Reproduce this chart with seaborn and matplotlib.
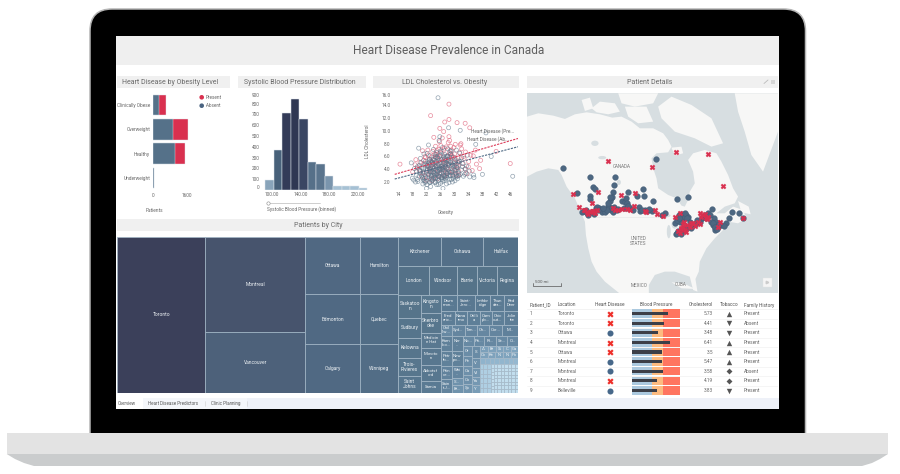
import numpy as np
import pandas as pd
import matplotlib
matplotlib.use("Agg")
import matplotlib.pyplot as plt
from matplotlib.patches import Rectangle, FancyBboxPatch, Polygon, Ellipse
from matplotlib.colors import LinearSegmentedColormap
import seaborn as sns

# ---------- data ----------
title = "Heart Disease Prevalence in Canada"
obesity_levels = ["Clinically Obese", "Overweight", "Healthy", "Underweight"]
obesity_absent = [296, 955, 1035, 25]
obesity_total = [595, 1633, 1520, 60]

bp_edges = [91.8, 103.5, 115.2, 126.9, 138.6, 150.3, 162.0, 173.7, 185.4, 197.1, 208.8, 220.5, 232.2]
bp_counts = [95, 367, 710, 845, 657, 256, 240, 127, 34, 34, 40, 18]

present_x = [14.5, 23.2, 28.4, 28.4, 30.7, 33.0, 34.3, 24.1, 25.8, 27.2, 26.9, 28.4, 28.6, 45.8, 41.8, 37.1, 36.2, 37.4, 35.9,
             19.5, 20.2, 21.0, 21.6, 22.1, 22.4, 22.9, 23.3, 23.8, 24.2, 24.6, 24.9, 25.3, 25.7, 26.0, 26.4, 26.8, 27.1, 27.5, 27.9,
             28.2, 28.7, 29.1, 29.6, 30.0, 30.5, 31.0, 31.6, 32.2, 33.1, 34.0, 35.0, 18.1, 18.8, 20.6, 21.9, 23.0, 24.0, 25.1, 26.2,
             27.3, 28.5, 29.4, 30.2, 31.2, 32.5, 22.6, 23.6, 24.4, 25.5, 26.6, 27.7, 28.9, 29.9, 30.8, 32.0, 33.5, 20.9, 21.4, 22.8,
             24.8, 26.1, 27.0, 28.1, 29.3, 30.4, 31.8, 23.9, 25.0, 25.9, 19.0, 26.5, 28.8,
             22.3, 22.7, 23.4, 24.5, 25.2, 26.3, 27.4, 28.3, 29.0, 29.8, 30.7, 31.4, 33.0, 34.6, 21.2, 23.1, 24.3, 25.4, 26.7, 27.6,
             20.0, 21.7, 24.7, 25.6, 27.8, 29.5, 30.9, 32.7, 33.9, 35.3, 28.0, 25.8, 26.9, 27.2, 24.0, 23.5, 22.0, 30.1, 31.1, 29.2]
present_y = [4.8, 12.4, 14.2, 11.8, 11.3, 11.2, 10.5, 9.0, 10.4, 11.4, 9.9, 9.1, 8.5, 4.9, 6.8, 4.1, 4.8, 5.4, 7.0,
             4.2, 5.1, 3.4, 6.0, 4.6, 7.0, 5.5, 3.1, 6.8, 4.3, 7.6, 5.9, 3.6, 8.3, 5.0, 6.5, 3.9, 7.3, 4.7, 6.1,
             8.2, 5.3, 7.0, 4.4, 6.4, 3.0, 5.7, 7.8, 4.9, 6.7, 5.2, 3.8, 3.6, 4.7, 2.9, 3.5, 4.0, 5.6, 2.5, 4.5,
             3.0, 6.6, 5.9, 7.9, 3.7, 6.0, 6.2, 2.2, 5.0, 7.1, 5.6, 3.4, 7.6, 5.1, 4.2, 7.2, 3.3, 6.9, 4.9, 3.7,
             6.3, 7.7, 5.4, 4.0, 3.2, 5.5, 8.0, 4.8, 6.9, 3.2, 5.5, 8.9, 6.4,
             2.7, 4.4, 5.9, 3.5, 6.1, 4.2, 5.0, 3.6, 6.0, 7.4, 4.6, 6.6, 4.0, 6.2, 5.4, 4.7, 6.4, 5.3, 4.0, 7.5,
             3.9, 5.8, 4.5, 2.9, 5.2, 3.6, 5.0, 5.7, 4.4, 6.1, 4.3, 6.0, 7.0, 2.9, 2.6, 5.2, 2.3, 4.0, 3.1, 6.2]
absent_x = [25.3, 28.3, 31.6, 38.9, 46.5, 37.9, 40.4, 19.8, 17.7, 18.0, 18.4, 26.7, 22.0, 34.3, 35.5, 35.4, 36.0, 25.8,
            19.2, 19.6, 20.0, 20.3, 20.7, 21.0, 21.2, 21.5, 21.7, 22.0, 22.2, 22.4, 22.6, 22.8, 23.0, 23.2, 23.4, 23.6, 23.8, 24.0,
            24.2, 24.4, 24.6, 24.8, 25.0, 25.2, 25.4, 25.6, 25.8, 26.0, 26.2, 26.4, 26.6, 26.8, 27.0, 27.2, 27.4, 27.6, 27.8, 28.0,
            28.2, 28.4, 28.6, 28.8, 29.0, 29.3, 29.6, 29.9, 30.2, 30.5, 30.8, 31.2, 31.6, 32.0, 32.5, 33.0, 33.6, 34.2,
            19.9, 20.5, 21.1, 21.6, 22.1, 22.5, 22.9, 23.3, 23.7, 24.1, 24.5, 24.9, 25.3, 25.7, 26.1, 26.5, 26.9, 27.3, 27.7, 28.1,
            28.5, 28.9, 29.4, 29.8, 30.3, 30.9, 31.5, 32.2, 33.2, 21.3, 21.9, 22.3, 22.7, 23.1, 23.5, 23.9, 24.3, 24.7, 25.1, 25.5,
            25.9, 26.3, 26.7, 27.1, 27.5, 27.9, 28.3, 28.7, 29.2, 29.7, 30.1, 30.6, 31.3, 20.2, 20.8, 21.4, 22.2, 22.8, 23.4, 24.0,
            24.6, 25.2, 25.8, 26.4, 27.0, 27.6, 28.2, 28.8, 29.5, 30.4, 19.4, 18.9, 23.2, 24.4, 25.6, 26.8, 28.0, 29.1, 30.0, 31.0,
            22.4, 23.6, 24.8, 26.0, 27.2, 28.4, 24.2, 25.4, 26.6, 27.8,
            18.6, 19.1, 19.5, 20.1, 20.6, 21.0, 21.4, 21.8, 22.3, 22.6, 22.9, 23.3, 23.5, 23.9, 24.2, 24.5, 24.7, 25.0, 25.3, 25.5,
            25.7, 26.0, 26.3, 26.5, 26.8, 27.1, 27.3, 27.6, 27.9, 28.1, 28.5, 28.8, 29.1, 29.4, 29.7, 30.0, 30.4, 30.7, 31.1, 31.4,
            31.9, 32.4, 32.9, 33.4, 21.2, 21.7, 22.2, 22.7, 23.0, 23.4, 23.8, 24.1, 24.6, 24.9, 25.1, 25.6, 25.9, 26.2, 26.6, 26.9,
            27.2, 27.5, 27.8, 28.2, 28.6, 29.0, 29.5, 30.0, 30.6, 31.2, 20.4, 20.9, 23.1, 23.7, 24.3, 24.8, 25.2, 25.8, 26.4, 27.0]
absent_y = [15.2, 10.5, 10.1, 9.7, 2.9, 3.2, 6.0, 7.3, 5.0, 2.6, 2.3, 1.0, 1.0, 2.8, 2.7, 3.1, 7.9, 9.1,
            3.7, 2.1, 4.6, 5.7, 3.0, 1.7, 4.1, 2.6, 5.2, 3.5, 1.6, 4.4, 7.8, 2.8, 6.1, 1.3, 3.9, 5.1, 2.3, 7.1,
            4.2, 1.9, 5.8, 3.2, 6.6, 2.5, 4.7, 8.5, 3.5, 1.8, 5.5, 2.9, 7.4, 4.3, 2.2, 6.3, 3.6, 5.0, 2.7, 7.2,
            4.0, 1.9, 5.9, 3.0, 6.8, 4.4, 2.6, 5.3, 3.4, 7.0, 2.5, 4.6, 3.2, 5.8, 2.9, 4.1, 6.2, 3.7,
            2.9, 5.0, 3.4, 1.9, 4.9, 3.1, 5.6, 2.4, 4.4, 3.0, 6.0, 1.6, 4.8, 3.3, 6.9, 2.4, 5.2, 3.9, 1.7, 4.7,
            3.1, 6.4, 2.0, 4.9, 3.8, 2.9, 6.5, 4.4, 3.4, 6.4, 2.7, 4.1, 5.3, 3.6, 2.1, 5.5, 3.1, 4.5, 5.9, 2.3,
            4.2, 3.4, 6.1, 2.8, 5.4, 3.3, 4.8, 6.9, 3.7, 5.9, 2.2, 3.9, 5.3, 3.6, 4.2, 2.2, 6.5, 4.0, 2.9, 4.9,
            6.3, 3.7, 5.4, 4.1, 3.0, 6.0, 5.2, 3.5, 4.6, 3.1, 4.4, 2.0, 3.7, 2.7, 4.0, 4.9, 6.0, 2.4, 4.5, 5.1,
            4.6, 3.6, 5.0, 3.9, 4.4, 5.3, 4.1, 2.9, 4.0, 3.0,
            4.1, 3.1, 2.4, 3.8, 4.3, 2.7, 3.6, 2.1, 4.6, 3.2, 1.9, 5.3, 2.6, 3.5, 5.4, 2.0, 4.0, 3.3, 5.7, 1.6,
            3.9, 6.7, 2.7, 4.4, 3.1, 5.6, 2.5, 4.2, 3.3, 6.1, 2.4, 5.1, 3.5, 4.7, 2.9, 5.6, 2.8, 4.3, 3.4, 5.2,
            3.9, 4.9, 3.2, 4.5, 2.3, 4.8, 3.8, 5.0, 2.0, 3.0, 4.7, 3.4, 2.5, 5.2, 3.7, 2.8, 6.2, 4.5, 2.1, 3.7,
            5.0, 2.9, 4.1, 5.5, 3.6, 4.6, 3.0, 3.8, 4.3, 3.0, 3.3, 2.6, 4.1, 5.0, 3.3, 2.7, 4.3, 5.0, 2.6, 5.9]
trend_x = [13.0, 48.0]
trend_present = [3.2, 8.82]
trend_absent = [2.47, 7.52]
obesity_ticks = [14, 18, 22, 26, 30, 34, 38, 42, 46]
ldl_ticks = [2, 4, 6, 8, 10, 12, 14, 16]

big_cities = [("Toronto", 13640)]
second_cities = [("Montreal", 9405), ("Vancouver", 5940)]
mid_row_1 = [("Ottawa", 3135), ("Hamilton", 2166)]
mid_row_2 = [("Edmonton", 2750), ("Quebec", 1900)]
mid_row_3 = [("Calgary", 2640), ("Winnipeg", 1824)]
right_row_1 = [("Kitchener", 1247), ("Oshawa", 1218), ("Halifax", 1015)]
right_row_2 = [("London", 868), ("Windsor", 784), ("Barrie", 560), ("Victoria", 560), ("Regina", 588)]
col_a = [("Saskatoo\nn", 506), ("Sudbury", 440), ("Kelowna", 440), ("Trois-\nRivieres", 396), ("Saint\nJohns", 374)]
col_b = [("Kingsto\nn", 360), ("Sherbro\noke", 400), ("Medicin\ne Hat", 300), ("Moncto\nn", 340), ("Abbotsf\nord", 320), ("Sarnia", 240)]
row_a = [("Drum\nmon...", 256), ("Saint-\nJero...", 288), ("Lethbr\nidge", 256), ("Thun\nder...", 224), ("Red\nDeer", 224)]
row_b = [("Fred\neric...", 195), ("Nana\nimo", 180), ("Orilli\na", 180), ("Cam\npb...", 165), ("Chic\nout...", 180), ("Jolie\ntte", 195)]
row_c = [("Chil\nliw...", 110), ("Syd...", 130), ("Tim...", 130), ("Ch...", 120), ("Cor...", 130), ("M...", 160)]
col_c1 = [("Kam\nloo...", 165), ("Petr\nrb...", 165), ("Prin\nce...", 143), ("Sain\nt J...", 143)]
col_c2 = [("Ner\n...", 165), ("New\npo...", 165), ("Whi\n...", 132), ("S...", 77), ("Br...", 77)]
row_d = [("No...", 110), ("Pri...", 110), ("Ri...", 120), ("Se...", 110), ("O...", 110)]
col_d1 = [("Or", 90), ("Pe", 90), ("Ca", 81), ("Co", 81), ("Sp", 72)]
col_d2 = [("S", 96), ("V", 80), ("Vi", 72), ("Ya", 64), ("Y", 56)]
row_e = [("A", 50), ("Br", 48), ("Si", 47), ("C", 46), ("Ga", 44)]
row_f = [("Ox", 48), ("Ke", 47), ("N", 46), ("N", 46), ("Po", 45)]
row_g = [("", 31), ("", 30), ("", 29), ("", 29), ("", 29), ("", 29), ("", 28), ("", 28)]
tiny_left = [[("", 18), ("", 17), ("", 17), ("", 17), ("", 17), ("", 17)],
             [("", 18), ("", 17), ("", 17), ("", 17), ("", 17), ("", 17)],
             [("", 18), ("", 17), ("", 17), ("", 17), ("", 17), ("", 17)]]
tiny_right = [[("", 13), ("", 13), ("", 12), ("", 12), ("", 12), ("", 12), ("", 12), ("", 12)],
              [("", 13), ("", 12), ("", 12), ("", 12), ("", 12), ("", 12), ("", 12), ("", 12)],
              [("", 13), ("", 12), ("", 12), ("", 12), ("", 12), ("", 12), ("", 12), ("", 12)],
              [("", 13), ("", 12), ("", 12), ("", 12), ("", 12), ("", 12), ("", 12), ("", 12)],
              [("", 12), ("", 12), ("", 12), ("", 12), ("", 12), ("", 12), ("", 12), ("", 12)],
              [("", 12), ("", 12), ("", 12), ("", 12), ("", 12), ("", 12), ("", 12), ("", 12)],
              [("", 12), ("", 12), ("", 12), ("", 12), ("", 12), ("", 12), ("", 12), ("", 12)],
              [("", 12), ("", 12), ("", 12), ("", 12), ("", 12), ("", 12), ("", 12), ("", 12)]]

map_absent_x = [113, 195, 270, 268, 205, 210, 155, 265, 308, 355, 357, 335, 383, 458, 490, 395, 258, 255, 250, 290, 300, 303, 195, 196, 178, 185, 190, 212, 222, 230, 240, 258, 252, 265, 275, 305, 315, 342, 345, 360, 382, 420, 450, 462, 470, 478, 485, 490, 475, 465, 455, 470, 475, 485, 490, 505, 515, 525, 530, 540, 550, 563, 568, 575, 565, 570, 580, 590, 605, 612, 622, 642, 655, 262, 245, 215, 305, 500, 520, 560, 572,
                172, 182, 200, 208, 218, 235, 248, 255, 260, 268, 280, 296, 310, 325, 350, 365, 372, 412, 456, 460, 468, 472, 480, 482, 488, 458, 464, 478, 495, 510, 518, 535, 545, 556, 566, 570, 578, 584, 598]
map_absent_y = [280, 305, 306, 330, 337, 342, 355, 352, 350, 342, 362, 364, 377, 373, 365, 252, 370, 378, 392, 377, 380, 370, 362, 372, 408, 415, 420, 400, 398, 410, 410, 405, 395, 410, 405, 400, 400, 395, 407, 405, 408, 415, 443, 420, 418, 418, 420, 425, 430, 440, 478, 470, 465, 460, 455, 450, 445, 440, 432, 420, 415, 402, 430, 440, 450, 460, 455, 450, 445, 430, 412, 413, 430, 365, 405, 395, 385, 458, 437, 440, 465,
                410, 405, 412, 418, 405, 398, 383, 365, 398, 395, 403, 398, 392, 405, 404, 408, 402, 420, 473, 468, 476, 425, 425, 415, 428, 434, 428, 462, 442, 446, 436, 425, 428, 420, 445, 456, 462, 448, 452]
map_present_x = [249, 145, 454, 550, 382, 595, 218, 288, 331, 200, 163, 176, 185, 195, 205, 215, 265, 270, 292, 316, 328, 360, 390, 398, 414, 452, 465, 478, 475, 480, 465, 500, 510, 525, 525, 535, 550, 548, 585, 580, 655, 470, 488, 530,
                 181, 190, 200, 210, 278, 306, 362, 460, 470, 476, 484, 495, 505, 520, 540, 544]
map_present_y = [257, 358, 232, 237, 276, 333, 350, 360, 353, 383, 397, 404, 410, 412, 408, 405, 398, 405, 401, 405, 392, 407, 405, 417, 422, 425, 415, 440, 455, 465, 475, 445, 452, 448, 415, 420, 425, 433, 440, 455, 430, 462, 450, 425,
                 404, 416, 408, 415, 405, 403, 410, 468, 458, 447, 472, 455, 445, 442, 418, 430]

land_main = [(6, 125), (40, 115), (85, 122), (120, 132), (150, 118), (185, 112), (225, 118), (262, 128), (290, 125), (320, 140), (345, 160), (385, 160), (415, 175), (430, 195), (440, 215), (430, 232), (395, 235), (380, 250), (385, 280), (395, 310), (400, 340), (430, 360), (455, 370), (470, 392), (480, 395), (490, 375), (495, 350), (510, 325), (505, 290), (490, 255), (505, 235), (540, 225), (575, 235), (590, 260), (610, 300), (625, 340), (640, 365), (630, 385), (600, 395), (575, 415), (600, 415), (625, 395), (655, 405), (665, 430), (640, 445), (610, 440), (595, 465), (570, 490), (545, 520), (525, 560), (522, 590), (512, 612), (518, 650), (505, 645), (495, 605), (450, 590), (420, 590), (390, 600), (372, 630), (372, 660), (290, 660), (240, 620), (215, 590), (200, 560), (190, 520), (183, 480), (180, 440), (165, 405), (150, 370), (125, 335), (110, 300), (100, 285), (70, 280), (35, 290), (6, 305)]
land_baffin = [(400, 95), (440, 65), (500, 90), (560, 130), (595, 205), (560, 215), (510, 190), (450, 170), (410, 130)]
land_victoria = [(200, 100), (225, 80), (270, 85), (285, 110), (250, 118), (215, 112)]
land_banks = [(170, 75), (195, 68), (205, 100), (180, 108)]
land_arctic = [(280, 55), (400, 55), (385, 85), (330, 95), (290, 85)]
land_somerset = [(300, 95), (365, 95), (385, 140), (340, 145), (310, 125)]
land_greenland = [(630, 55), (760, 55), (760, 170), (715, 290), (680, 240), (660, 170), (640, 110)]
land_south = [(440, 218), (470, 215), (475, 235), (450, 242)]
land_newfoundland = [(640, 378), (672, 395), (678, 418), (650, 412)]
land_cuba = [(440, 622), (475, 625), (512, 642), (470, 640)]
lakes = [(418, 422, 38, 12), (432, 470, 12, 40), (450, 448, 20, 26), (472, 478, 26, 8), (495, 462, 24, 8), (210, 205, 22, 16), (232, 248, 24, 10), (282, 322, 12, 16)]

patient_ids = [1, 2, 3, 4, 5, 6, 7, 8, 9]
patient_city = ["Toronto", "Toronto", "Ottawa", "Montreal", "Ottawa", "Montreal", "Montreal", "Montreal", "Belleville"]
patient_disease = ["Present", "Present", "Absent", "Present", "Present", "Absent", "Absent", "Present", "Absent"]
patient_bp = [177, 158, 130, 187, 147, 147, 153, 125, 125]
bp_band_low = 100
bp_band_mid = 153
bp_band_high = 240
patient_chol = ["5.73", "4.41", "3.48", "6.41", "3.5", "5.47", "3.58", "4.19", "3.83"]
patient_tobacco = ["up", "down", "down", "up", "up", "up", "even", "even", "down"]
patient_family = ["Present", "Absent", "Present", "Present", "Present", "Present", "Absent", "Present", "Present"]
table_headers = ["Patient_ID", "Location", "Heart Disease", "Blood Pressure", "Cholesterol", "Tobacco", "Family History"]
tabs = ["Overview", "Heart Disease Predictors", "Clinic Planning"]

# ---------- style ----------
sns.set_theme(style="white")
plt.rcParams["font.family"] = ["Roboto", "DejaVu Sans"]
RED = "#d9304f"
BLUE = "#557189"
TXT = "#666666"
BAND = "#f0f0f0"
SMALL = 3.45
W, H = 900, 474
fig = plt.figure(figsize=(W / 100, H / 100), dpi=100, facecolor="white")


def px_axes(x0, y0, x1, y1, z=2):
    ax = fig.add_axes([x0 / W, 1 - y1 / H, (x1 - x0) / W, (y1 - y0) / H], zorder=z)
    ax.patch.set_alpha(0)
    return ax


# ---------- laptop chrome ----------
bg = px_axes(0, 0, W, H, z=0)
bg.set_xlim(0, W)
bg.set_ylim(H, 0)
bg.axis("off")
bg.add_patch(FancyBboxPatch((90, 9), 715.5, 450, boxstyle="round,pad=0,rounding_size=22", fc="black", ec="#b5b5b5", lw=1.1))
bg.add_patch(Rectangle((6.7, 433), 881.3, 21, fc="#e3e3e3", ec="none"))
bg.add_patch(Polygon([(6.7, 454), (888, 454), (880, 459), (872, 463), (862, 466), (34, 466), (24, 463), (15, 459)],
                     fc="#cacccd", ec="none"))
bg.add_patch(Rectangle((116, 36), 663, 373, fc="white", ec="none"))
bg.add_patch(Rectangle((116, 36), 663, 29, fc="#efefef", ec="none"))
bg.text(449, 50, title, ha="center", va="center", fontsize=8.6, color="#5f5f5f")
bands = [(117, 76, 113, 12, "Heart Disease by Obesity Level", 122, "left"),
         (238, 76, 128, 12, "Systolic Blood Pressure Distribution", 244, "left"),
         (373, 76, 146, 12, "LDL Cholesterol vs. Obesity", 445, "center"),
         (527, 76, 251, 12, "Patient Details", 650, "center"),
         (117, 219, 402, 12, "Patients by City", 318, "center")]
for x, y, w, h, txt, tx, ha in bands:
    bg.add_patch(Rectangle((x, y), w, h, fc=BAND, ec="none"))
    bg.text(tx, y + h / 2, txt, ha=ha, va="center", fontsize=5.0, color="#6a6a6a")
bg.add_patch(Rectangle((771, 80), 4, 3.5, fc="#d5d5d5", ec="none"))
bg.plot([764, 768], [83.5, 80], color="#bbbbbb", lw=0.6)
bg.add_patch(Rectangle((116, 397.5), 663, 11.5, fc="#eef1f8", ec="none"))
bg.add_patch(Rectangle((116, 397.5), 27, 11.5, fc="white", ec="none"))
bg.add_patch(Rectangle((143, 397.5), 104, 11.5, fc="#f4f6fa", ec="none"))
for txt, tx in zip(tabs, [118, 148.5, 211]):
    bg.text(tx, 403.5, txt, ha="left", va="center", fontsize=3.25, color="#555555")
for x in [205, 247]:
    bg.plot([x, x], [401, 406], color="#cccccc", lw=0.4)

# ---------- bars ----------
ax = px_axes(153, 93, 190, 190)
obesity = pd.DataFrame({"level": obesity_levels, "total": obesity_total, "absent": obesity_absent})
sns.barplot(data=obesity, y="level", x="total", color=RED, saturation=1, width=0.84, ax=ax, edgecolor="#dfe6ec", linewidth=0.3)
sns.barplot(data=obesity, y="level", x="absent", color=BLUE, saturation=1, width=0.84, ax=ax, edgecolor="#dfe6ec", linewidth=0.3)
ax.set_xlim(0, 1741)
ax.set_xticks([0, 1600], ["0", "1600"])
ax.set_xlabel("Patients", fontsize=SMALL, color=TXT)
ax.xaxis.set_label_coords(0.03, -0.185)
ax.set_ylabel("")
ax.tick_params(axis="both", labelsize=SMALL, labelcolor=TXT, length=0, pad=2)
sns.despine(ax=ax, left=True, bottom=True)
for label, color, yy in [("Present", RED, 97.3), ("Absent", "#4a6381", 105.7)]:
    bg.add_patch(Ellipse((201.7, yy), 4.6, 4.6, fc=color, ec="none"))
    bg.text(206, yy, label, ha="left", va="center", fontsize=3.3, color=TXT)

# ---------- histogram ----------
ax = px_axes(263, 92, 368, 190)
sns.histplot(x=[(a + b) / 2 for a, b in zip(bp_edges[:-1], bp_edges[1:])], weights=bp_counts, bins=bp_edges, ax=ax,
             edgecolor="#dfe6ec", linewidth=0.35, alpha=1)
hist_cmap = LinearSegmentedColormap.from_list("h", [(0, "#a9c3d6"), (0.05, "#a5c0d4"), (0.13, "#7f9ab1"), (0.3, "#567089"),
                                                    (0.45, "#465f78"), (0.78, "#3a4663"), (0.84, "#333b58"), (1, "#2f3753")])
for patch, v in zip(ax.patches, bp_counts):
    patch.set_facecolor(hist_cmap(v / 845))
ax.set_xlim(88.4, 233.5)
ax.set_ylim(0, 907)
ax.set_xticks([100, 140, 180, 220], ["100.00", "140.00", "180.00", "220.00"])
yt = list(range(0, 901, 100))
ax.set_yticks(yt, [str(v) for v in yt])
ax.get_yticklabels()[0].set_va("bottom")
ax.get_yticklabels()[-1].set_va("top")
ax.set_ylabel("")
ax.tick_params(axis="both", labelsize=SMALL, labelcolor=TXT, pad=1.5)
ax.tick_params(axis="y", length=1, width=0.3, color="#cccccc")
ax.tick_params(axis="x", length=0)
sns.despine(ax=ax, left=True, bottom=True)
bg.plot([268, 320], [203, 203], color="#bbbbbb", lw=0.5)
bg.plot([268], [203], "o", ms=2.4, mfc="white", mec="#888888", mew=0.4)
bg.text(301.5, 209, "Systolic Blood Pressure (binned)", ha="center", va="center", fontsize=SMALL, color=TXT)

# ---------- scatter ----------
ax = px_axes(394, 92, 518, 190)
sns.scatterplot(x=present_x, y=present_y, s=8.5, facecolor="none", edgecolor="#e0657d", linewidth=0.5, alpha=0.75, ax=ax)
sns.scatterplot(x=absent_x, y=absent_y, s=8.5, facecolor="none", edgecolor="#5c7488", linewidth=0.5, alpha=0.65, ax=ax)
sns.lineplot(x=trend_x, y=trend_present, color="#dc3a58", linestyle=(0, (2, 1)), linewidth=0.8, ax=ax)
sns.lineplot(x=trend_x, y=trend_absent, color="#4f6a85", linestyle=(0, (2, 1)), linewidth=0.8, ax=ax)
ax.set_xlim(12.8, 48)
ax.set_ylim(0.75, 16.1)
ax.set_xticks(obesity_ticks, [str(v) for v in obesity_ticks])
ax.set_yticks(ldl_ticks, [f"{v:.1f}" for v in ldl_ticks])
ax.get_yticklabels()[-1].set_va("top")
ax.tick_params(axis="both", labelsize=SMALL, labelcolor=TXT, pad=1.5)
ax.tick_params(axis="y", length=1, width=0.3, color="#cccccc")
ax.tick_params(axis="x", length=0)
ax.set_xlabel("Obesity", fontsize=SMALL, color=TXT)
ax.xaxis.set_label_coords(0.42, -0.205)
ax.set_ylabel("LDL Cholesterol", fontsize=SMALL, color=TXT)
ax.yaxis.set_label_coords(-0.19, 0.5)
sns.despine(ax=ax, left=True, bottom=True)
fig.text(471 / W, 1 - 131 / H, "Heart Disease (Pre...", ha="left", va="center", fontsize=SMALL, color=TXT, zorder=5)
fig.text(467 / W, 1 - 139 / H, "Heart Disease (Ab...", ha="left", va="center", fontsize=SMALL, color=TXT, zorder=5)

# ---------- treemap ----------
H_, V_ = "H", "V"
mid = (V_, [(H_, mid_row_1), (H_, mid_row_2), (H_, mid_row_3)])
tiny = (V_, [(H_, row_g), (H_, [(H_, [(V_, c) for c in tiny_left]), (H_, [(V_, c) for c in tiny_right])])])
small3 = (H_, [(V_, col_d1), (V_, col_d2), (V_, [(H_, row_e), (H_, row_f), tiny])])
small2 = (V_, [(H_, row_d), small3])
small1 = (H_, [(V_, col_c1), (V_, col_c2), small2])
small0 = (V_, [(H_, row_a), (H_, row_b), (H_, row_c), small1])
right = (V_, [(H_, right_row_1), (H_, right_row_2), (H_, [(V_, col_a), (V_, col_b), small0])])
tree = (H_, big_cities + [(V_, second_cities), mid, right])


def total(node):
    if isinstance(node[1], list):
        return sum(total(c) for c in node[1])
    return node[1]


tile_cmap = LinearSegmentedColormap.from_list("t", [(0.00, "#c2deee"), (0.07, "#a6c8de"), (0.17, "#82a7c1"),
                                                    (0.29, "#6a8ca6"), (0.42, "#5a7a93"), (0.55, "#557389"),
                                                    (0.70, "#526e87"), (0.82, "#4f6680"), (0.90, "#4d5f78"),
                                                    (0.96, "#46526a"), (1.00, "#3b405a")])


def draw(ax, node, x0, y0, x1, y1):
    if isinstance(node[1], list):
        tot = total(node)
        pos = 0.0
        for k in node[1]:
            share = total(k) / tot
            if node[0] == "H":
                draw(ax, k, x0 + (x1 - x0) * pos, y0, x0 + (x1 - x0) * (pos + share), y1)
            else:
                draw(ax, k, x0, y0 + (y1 - y0) * pos, x1, y0 + (y1 - y0) * (pos + share))
            pos += share
    else:
        name, val = node
        level = (np.log(val) - np.log(12)) / (np.log(13640) - np.log(12))
        ax.add_patch(Rectangle((x0, y0), x1 - x0, y1 - y0, fc=tile_cmap(level), ec="#a3b7c7", lw=0.5))
        if name:
            fs = 3.5 if val > 350 else 3.1
            ax.text((x0 + x1) / 2, (y0 + y1) / 2, name, ha="center", va="center", fontsize=fs, color="#eef2f5",
                    linespacing=1.0)


ax = px_axes(117, 237, 518, 392.5)
ax.set_xlim(0, 1)
ax.set_ylim(1, 0)
ax.axis("off")
draw(ax, tree, 0, 0, 1, 1)

# ---------- map ----------
ax = px_axes(527, 93.3, 778, 293.3)
ax.set_xlim(6, 760)
ax.set_ylim(655, 55)
ax.set_facecolor("#d7dee1")
ax.patch.set_alpha(1)
for poly in [land_main, land_baffin, land_victoria, land_banks, land_arctic, land_somerset, land_greenland, land_south,
             land_newfoundland, land_cuba]:
    ax.add_patch(Polygon(poly, fc="#f7f7f6", ec="none"))
for cx, cy, w, h in lakes:
    ax.add_patch(Ellipse((cx, cy), w, h, fc="#d7dee1", ec="none"))
ax.plot([183, 420], [425, 425], color="#e6e6e6", lw=0.4)
sns.scatterplot(x=map_absent_x, y=map_absent_y, s=17, color="#4d6781", edgecolor="#3f5872", linewidth=0.25, ax=ax, zorder=3)
sns.scatterplot(x=map_present_x, y=map_present_y, s=14, marker="X", color=RED, edgecolor=RED, linewidth=0.2, ax=ax, zorder=4)
for txt, mx, my in [("CANADA", 291, 275), ("UNITED\nSTATES", 341, 498), ("MEXICO", 343, 632), ("CUBA", 467, 630)]:
    ax.text(mx, my, txt, ha="center", va="center", fontsize=3.3, color="#777777", zorder=5, linespacing=1.1)
ax.plot([24, 24, 108, 108], [625, 632, 632, 625], color="#555555", lw=0.5)
ax.text(30, 622, "500 mi", ha="left", va="center", fontsize=3.2, color="#555555")
ax.add_patch(Rectangle((716, 610), 25, 25, fc="#f5f5f5", ec="#e3e3e3", lw=0.3))
ax.plot([728], [622], marker=">", ms=1.8, color="#cccccc")
ax.set_xticks([])
ax.set_yticks([])
ax.set_xlabel("")
ax.set_ylabel("")
sns.despine(ax=ax, left=True, bottom=True)

# ---------- table ----------
ax = px_axes(527, 300, 778, 395.1)
ax.set_xlim(527, 778)
ax.set_ylim(395.1, 300)
ax.axis("off")
row_y = [313.7 + 9.6 * i for i in range(9)]
for y in row_y:
    ax.axhline(y + 4.8, color="#f2f2f2", lw=0.5)
header_x = [530, 558, 610, 655.7, 713, 728.7, 743.7]
header_ha = ["left", "left", "center", "center", "right", "center", "left"]
for txt, x, ha in zip(table_headers, header_x, header_ha):
    ax.text(x, 305, txt, ha=ha, va="center", fontsize=SMALL, color="#555555")
ax.axhline(309, color="#eeeeee", lw=0.5)
for i, y in enumerate(row_y):
    ax.text(530, y, str(patient_ids[i]), ha="left", va="center", fontsize=SMALL, color=TXT)
    ax.text(558, y, patient_city[i], ha="left", va="center", fontsize=SMALL, color=TXT)
    ax.text(713, y, patient_chol[i], ha="right", va="center", fontsize=SMALL, color=TXT)
    ax.text(743.7, y, patient_family[i], ha="left", va="center", fontsize=SMALL, color=TXT)
table = pd.DataFrame({"y": row_y, "disease": patient_disease, "tobacco": patient_tobacco})
pres = table[table.disease == "Present"]
abse = table[table.disease == "Absent"]
sns.scatterplot(x=[610] * len(pres), y=pres.y, marker="X", s=20, color="#ee2f2a", linewidth=0, ax=ax)
sns.scatterplot(x=[610] * len(abse), y=abse.y, marker="o", s=19, color="#47688a", linewidth=0, ax=ax)
for state, mk, size in [("up", "^", 15), ("down", "v", 15), ("even", "D", 9)]:
    sub = table[table.tobacco == state]
    sns.scatterplot(x=[728.7] * len(sub), y=sub.y, marker=mk, s=size, color="#555555", linewidth=0, ax=ax)
ax.set_xlabel("")
ax.set_ylabel("")

ax = px_axes(632, 308.9, 680.3, 395.1)
bp = pd.DataFrame({"row": [str(i) for i in patient_ids], "value": patient_bp,
                   "high": [bp_band_high] * 9, "mid": [bp_band_mid] * 9, "low": [bp_band_low] * 9})
sns.barplot(data=bp, y="row", x="high", color="#ff7560", saturation=1, width=0.88, linewidth=0, ax=ax)
sns.barplot(data=bp, y="row", x="mid", color="#fdbb80", saturation=1, width=0.88, linewidth=0, ax=ax)
sns.barplot(data=bp, y="row", x="low", color="#abc9df", saturation=1, width=0.88, linewidth=0, ax=ax)
sns.barplot(data=bp, y="row", x="value", color="#3c3f48", saturation=1, width=0.32, linewidth=0, ax=ax)
ax.set_xlim(0, 240)
ax.axis("off")

fig.savefig("out.png", dpi=100, facecolor="white")
